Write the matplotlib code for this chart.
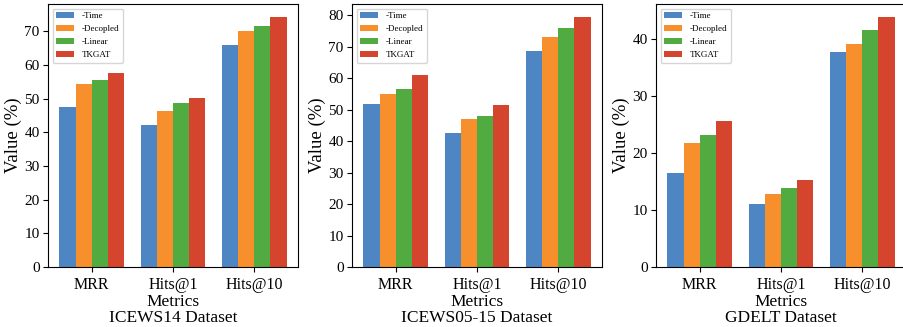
import matplotlib
matplotlib.use("Agg")
import matplotlib.pyplot as plt
from matplotlib.ticker import MultipleLocator
import numpy as np

plt.rcParams['font.family'] = ['Liberation Serif', 'DejaVu Serif']
plt.rcParams['mathtext.fontset'] = 'stix'

metrics = ["MRR", "Hits@1", "Hits@10"]
variants = ["-Time", "-Decopled", "-Linear", "TKGAT"]
colors = ["#4E86C3", "#F78F2C", "#52AB41", "#D5452D"]
datasets = ["ICEWS14 Dataset", "ICEWS05-15 Dataset", "GDELT Dataset"]

icews14 = {
    "-Time":     [47.4, 42.1, 65.8],
    "-Decopled": [54.5, 46.3, 70.2],
    "-Linear":   [55.4, 48.6, 71.7],
    "TKGAT":     [57.5, 50.1, 74.4],
}
icews0515 = {
    "-Time":     [51.7, 42.5, 68.8],
    "-Decopled": [54.9, 47.1, 73.2],
    "-Linear":   [56.5, 47.9, 75.8],
    "TKGAT":     [60.9, 51.4, 79.6],
}
gdelt = {
    "-Time":     [16.5, 11.1, 37.7],
    "-Decopled": [21.8, 12.8, 39.1],
    "-Linear":   [23.2, 13.9, 41.6],
    "TKGAT":     [25.6, 15.3, 44.0],
}
all_data = [icews14, icews0515, gdelt]

W, H = 904, 327
fig = plt.figure(figsize=(W / 100, H / 100), dpi=100)
lefts = [48, 352, 656]
ax_w = 250
bottom_px, top_px = 267, 4

x = np.arange(len(metrics))
bw = 0.2
for i, (data, title) in enumerate(zip(all_data, datasets)):
    ax = fig.add_axes([lefts[i] / W, 1 - bottom_px / H, ax_w / W, (bottom_px - top_px) / H])
    for j, v in enumerate(variants):
        ax.bar(x + (j - 1.5) * bw, data[v], bw, color=colors[j], label=v)
    ax.set_xticks(x)
    ax.set_xticklabels(metrics, fontsize=11.5)
    ax.yaxis.set_major_locator(MultipleLocator(10))
    ax.tick_params(axis='y', labelsize=11, pad=2.5)
    ax.set_ylabel("Value (%)", fontsize=13.5, labelpad=1.5)
    ax.set_xlabel("Metrics\n" + title, fontsize=12.5, linespacing=1.0, labelpad=1)
    ax.legend(loc="upper left", fontsize=6.5, frameon=True)

fig.savefig("out.png", dpi=100)
